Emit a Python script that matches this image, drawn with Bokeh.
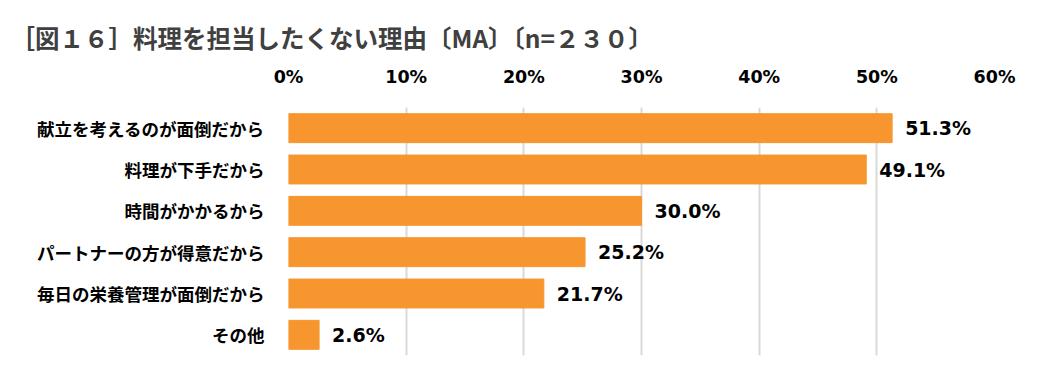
from bokeh.plotting import figure
from bokeh.models import ColumnDataSource, FactorRange, LabelSet, SingleIntervalTicker, Range1d, CustomJSTickFormatter
from bokeh.embed import file_html
from bokeh.resources import INLINE
from bokeh.core.properties import value

categories = ["献立を考えるのが面倒だから", "料理が下手だから", "時間がかかるから",
              "パートナーの方が得意だから", "毎日の栄養管理が面倒だから", "その他"]
values = [51.3, 49.1, 30.0, 25.2, 21.7, 2.6]
labels = ["51.3%", "49.1%", "30.0%", "25.2%", "21.7%", "2.6%"]

FONT = "Noto Sans CJK JP"
NUMFONT = "DejaVu Sans"

src = ColumnDataSource(dict(cat=categories, val=values, lab=labels))

p = figure(width=1048, height=365, output_backend="svg", toolbar_location=None,
           y_range=FactorRange(*reversed(categories)), x_range=Range1d(0, 60),
           x_axis_location="above", min_border_left=288, min_border_right=54,
           min_border_bottom=10, min_border_top=107)

p.title.text = "［図１６］料理を担当したくない理由〔MA〕〔n=２３０〕"
p.title.text_font = FONT
p.title.text_font_size = "24.5px"
p.title.text_font_style = "bold"
p.title.text_color = "#404040"
p.title.offset = -278
p.title.standoff = 18

p.hbar(y="cat", right="val", left=0, height=0.7, color="#F7962F", source=src)

p.add_layout(LabelSet(x="val", y="cat", text="lab", source=src, x_offset=13,
                      text_baseline="middle", text_font=value(NUMFONT), text_font_size="19px",
                      text_font_style="bold", text_color="#000000"))

p.outline_line_color = None
p.background_fill_color = "white"
p.border_fill_color = "white"

p.xaxis.ticker = SingleIntervalTicker(interval=10)
p.xaxis.formatter = CustomJSTickFormatter(code="return tick.toFixed(0) + '%';")
p.xaxis.axis_line_color = None
p.xaxis.major_tick_line_color = None
p.xaxis.minor_tick_line_color = None
p.xaxis.major_label_standoff = 15
p.xaxis.major_label_text_font = NUMFONT
p.xaxis.major_label_text_font_size = "17.5px"
p.xaxis.major_label_text_font_style = "bold"
p.xaxis.major_label_text_color = "#000000"

p.yaxis.axis_line_color = None
p.yaxis.major_tick_line_color = None
p.yaxis.major_label_standoff = 18
p.yaxis.major_label_text_font = FONT
p.yaxis.major_label_text_font_size = "17.5px"
p.yaxis.major_label_text_font_style = "bold"
p.yaxis.major_label_text_color = "#000000"

p.xgrid.grid_line_color = "#D9D9D9"
p.xgrid.grid_line_width = 2
p.ygrid.grid_line_color = None

open("out.html", "w").write(file_html(p, INLINE))
